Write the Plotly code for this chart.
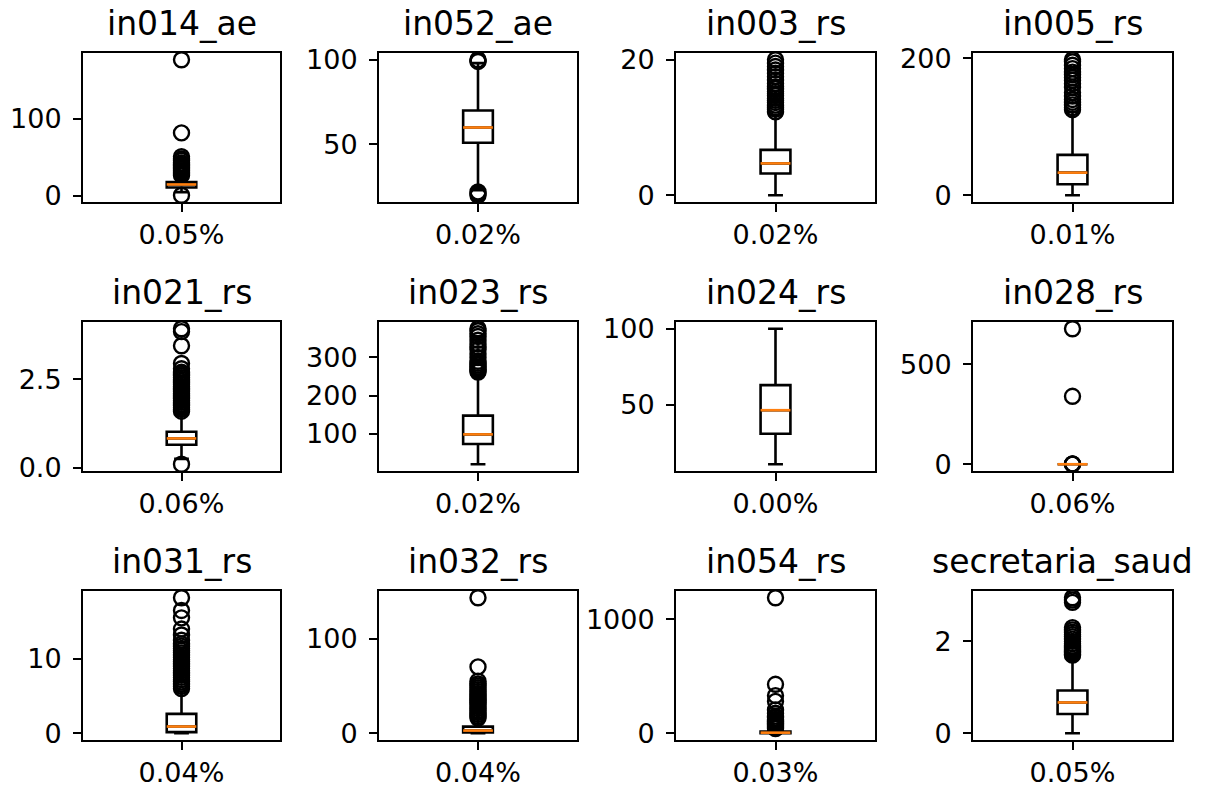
import plotly.graph_objects as go

# ---------------- data ----------------
titles = ["in014_ae", "in052_ae", "in003_rs", "in005_rs",
          "in021_rs", "in023_rs", "in024_rs", "in028_rs",
          "in031_rs", "in032_rs", "in054_rs", "secretaria_saud"]
xlabels = ["0.05%", "0.02%", "0.02%", "0.01%",
           "0.06%", "0.02%", "0.00%", "0.06%",
           "0.04%", "0.04%", "0.03%", "0.05%"]

q1s = [11, 51, 3.2, 16, 0.65, 74, 31, 0, 0.15, 0.8, 1, 0.42]
medians = [15, 60, 4.7, 33, 0.83, 99, 46.5, 0, 0.9, 2.8, 5, 0.67]
q3s = [18, 70, 6.7, 59, 1.02, 148, 63, 0, 2.6, 7, 15, 0.93]
whisk_lo = [5, 23, 0, 0, 0.25, 21, 11, 0, 0, 0, 0, 0]
whisk_hi = [25, 98, 11.8, 122, 1.55, 255, 100, 0, 5.6, 15, 35, 1.65]

fliers_in014_ae = [1, 27, 29, 31, 33, 35, 37, 39, 41, 43, 46, 48, 51, 82, 177]
fliers_in052_ae = [20, 21, 22, 99, 99.5, 100]
fliers_in003_rs = [12.3, 12.7, 13, 13.3, 13.7, 14, 14.3, 14.7, 15, 15.3, 15.7, 16,
                   16.5, 17, 17.5, 18, 18.5, 19, 19.5, 20]
fliers_in005_rs = [125, 128, 132, 136, 140, 145, 150, 158, 163, 168, 172, 176,
                   180, 185, 190, 195, 198]
fliers_in021_rs = [0.1, 1.6, 1.65, 1.7, 1.75, 1.8, 1.85, 1.9, 1.95, 2.0, 2.05, 2.1,
                   2.15, 2.2, 2.25, 2.3, 2.35, 2.4, 2.45, 2.5, 2.55, 2.6, 2.65,
                   2.7, 2.8, 2.95, 3.45, 3.85, 3.93]
fliers_in023_rs = [262, 266, 270, 275, 280, 285, 290, 300, 310, 320, 328, 335,
                   345, 355, 362, 370, 375]
fliers_in024_rs = []
fliers_in028_rs = [0.5, 1, 2, 340, 678]
fliers_in031_rs = [6.0, 6.3, 6.6, 6.9, 7.2, 7.5, 7.8, 8.1, 8.4, 8.7, 9.0, 9.3, 9.6,
                   9.9, 10.2, 10.5, 10.8, 11.1, 11.4, 11.7, 12.0, 12.5, 13.2, 14.0,
                   15.5, 16.5, 18.2]
fliers_in032_rs = [16, 18, 20, 22, 24, 26, 28, 30, 32, 34, 36, 38, 40, 42, 44, 46,
                   48, 50, 52, 55, 70, 143]
fliers_in054_rs = [40, 50, 60, 70, 80, 90, 100, 110, 120, 135, 150, 175, 205, 280,
                   330, 430, 1190]
fliers_secretaria_saud = [1.7, 1.72, 1.75, 1.78, 1.8, 1.83, 1.86, 1.9, 1.95, 2.0,
                          2.05, 2.1, 2.15, 2.2, 2.25, 2.3, 2.85, 2.9, 2.95]

fliers = [fliers_in014_ae, fliers_in052_ae, fliers_in003_rs, fliers_in005_rs,
          fliers_in021_rs, fliers_in023_rs, fliers_in024_rs, fliers_in028_rs,
          fliers_in031_rs, fliers_in032_rs, fliers_in054_rs, fliers_secretaria_saud]

ytick_vals = [[0, 100], [50, 100], [0, 20], [0, 200],
              [0, 2.5], [0, 100, 200, 300], [50, 100], [0, 500],
              [0, 10], [0, 100], [0, 1000], [0, 2]]
ytick_text = [["0", "100"], ["50", "100"], ["0", "20"], ["0", "200"],
              ["0.0", "2.5"], ["0", "100", "200", "300"], ["50", "100"], ["0", "500"],
              ["0", "10"], ["0", "100"], ["0", "1000"], ["0", "2"]]

# ---------------- layout geometry (pixels) ----------------
W, H = 1206, 785
col_px = [(83, 280), (379, 577), (676, 875), (973, 1172)]
row_px = [(53, 202), (322, 471), (591, 740)]
title_xshift = [0] * 11 + [-10]
BOX_W = 0.15
MEDIAN_COLOR = "#ff7f0e"

fig = go.Figure()
layout = dict(
    width=W, height=H,
    margin=dict(l=0, r=0, t=0, b=0, autoexpand=False),
    paper_bgcolor="white", plot_bgcolor="white",
    showlegend=False,
    font=dict(family="DejaVu Sans", color="black"),
)
annotations = []

for i in range(12):
    r, c = divmod(i, 4)
    n = "" if i == 0 else str(i + 1)
    xa, ya = "x" + n, "y" + n
    x0, x1 = col_px[c]
    y0, y1 = row_px[r]

    fig.add_trace(go.Box(
        x=[1], q1=[q1s[i]], median=[medians[i]], q3=[q3s[i]],
        lowerfence=[whisk_lo[i]], upperfence=[whisk_hi[i]],
        width=BOX_W, whiskerwidth=0.5, boxpoints=False,
        line=dict(color="black", width=2.6), fillcolor="rgba(0,0,0,0)",
        xaxis=xa, yaxis=ya, hoverinfo="skip",
    ))
    if fliers[i]:
        fig.add_trace(go.Scatter(
            x=[1] * len(fliers[i]), y=fliers[i], mode="markers",
            marker=dict(symbol="circle-open", size=15, color="black",
                        line=dict(width=2.4, color="black")),
            xaxis=xa, yaxis=ya, hoverinfo="skip",
        ))
    fig.add_trace(go.Scatter(
        x=[1 - BOX_W / 2, 1 + BOX_W / 2], y=[medians[i], medians[i]],
        mode="lines", line=dict(color=MEDIAN_COLOR, width=2.6),
        xaxis=xa, yaxis=ya, hoverinfo="skip",
    ))

    allv = [whisk_lo[i], whisk_hi[i]] + fliers[i]
    lo, hi = min(allv), max(allv)
    pad = 0.05 * (hi - lo)

    common = dict(showline=True, mirror=True, linecolor="black", linewidth=2,
                  showgrid=False, zeroline=False, ticks="outside", ticklen=8,
                  tickwidth=2, tickcolor="black", automargin=False,
                  tickfont=dict(size=27, color="black"))
    layout["xaxis" + n] = dict(domain=[x0 / W, x1 / W], anchor=ya, range=[0.5, 1.5],
                               tickvals=[1], ticktext=[xlabels[i]], **common)
    layout["yaxis" + n] = dict(domain=[1 - y1 / H, 1 - y0 / H], anchor=xa,
                               range=[lo - pad, hi + pad], ticklabelstandoff=6,
                               tickvals=ytick_vals[i], ticktext=ytick_text[i], **common)
    annotations.append(dict(
        text=titles[i], x=(x0 + x1) / 2 / W, y=1 - y0 / H, xref="paper", yref="paper",
        xanchor="center", yanchor="bottom", yshift=8, xshift=title_xshift[i],
        showarrow=False, font=dict(size=33, color="black", family="DejaVu Sans"),
    ))

layout["annotations"] = annotations
fig.update_layout(**layout)
fig.write_html("out.html", config={"displayModeBar": False},
               post_script="document.body.style.margin='0px';")
